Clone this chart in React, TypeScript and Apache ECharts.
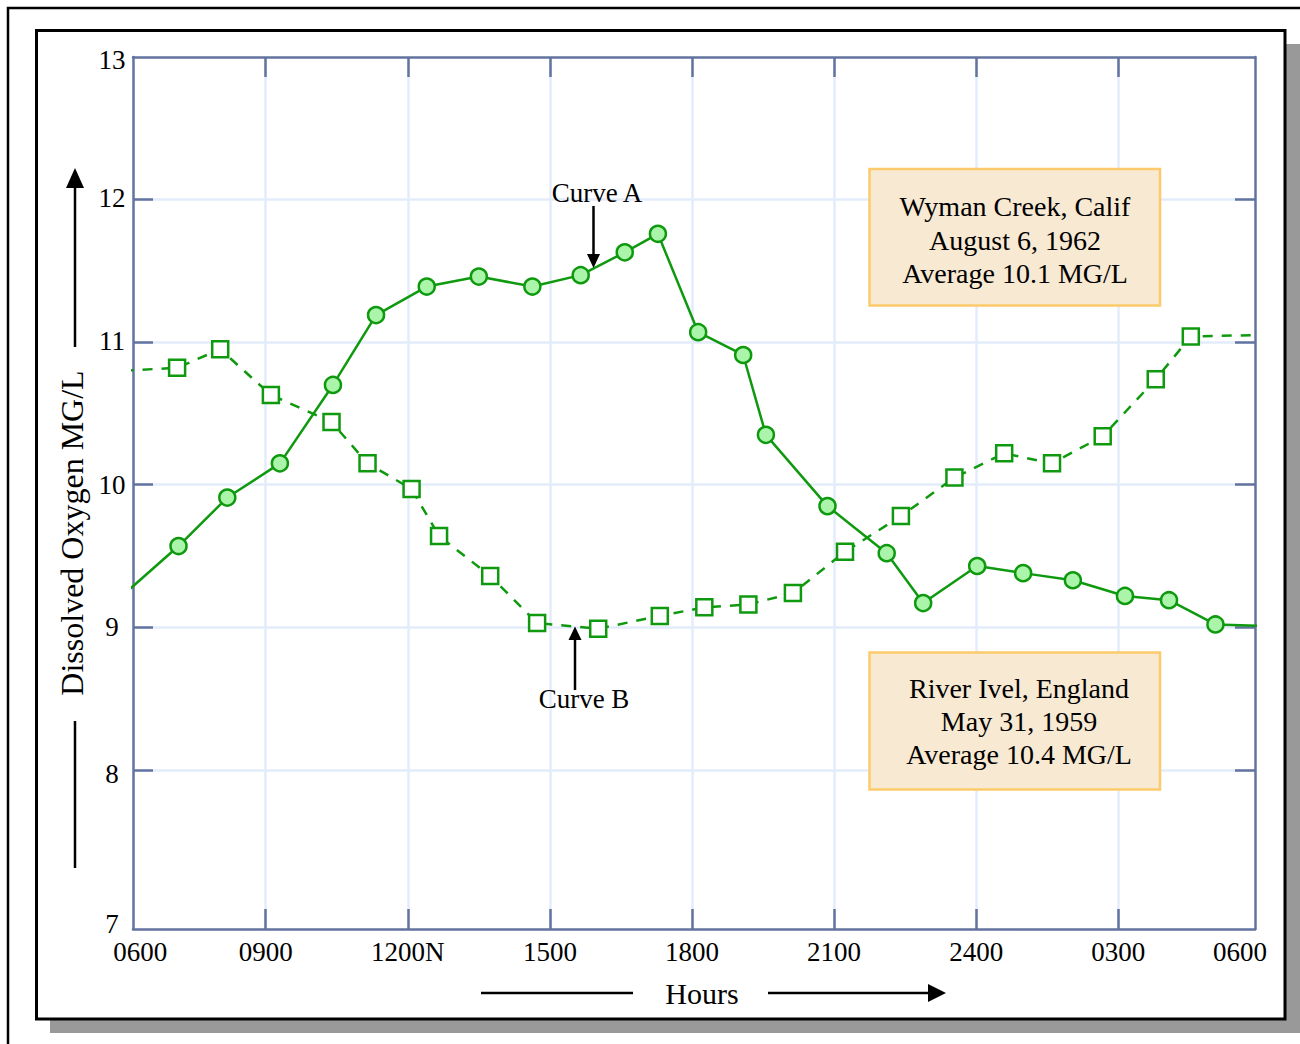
import React, { useEffect, useRef } from 'react';
import * as echarts from 'echarts';

// ---- data (hours since midnight, continuing past 24 for the next morning) ----
const xTickLabels = ['0600', '0900', '1200N', '1500', '1800', '2100', '2400', '0300', '0600'];
const xTickHours = [9, 12, 15, 18, 21, 24, 27];
const xLabelHours = [6.35, 9, 12, 15, 18, 21, 24, 27, 29.57];
const yTickValues = [8, 9, 10, 11, 12];
const yLabelValues = [6.92, 7.97, 9, 10, 11.01, 12.01, 12.98];

// Curve A – Wyman Creek, Calif (solid line, circles)
const hoursA = [6.0, 7.16, 8.19, 9.3, 10.42, 11.33, 12.4, 13.5, 14.63, 15.65, 16.58, 17.28, 18.13, 19.08, 19.56, 20.86, 22.11, 22.88, 24.02, 24.99, 26.04, 27.14, 28.07, 29.05, 30.0];
const curveA = [9.23, 9.57, 9.91, 10.15, 10.7, 11.19, 11.39, 11.46, 11.39, 11.47, 11.63, 11.76, 11.07, 10.91, 10.35, 9.85, 9.52, 9.17, 9.43, 9.38, 9.33, 9.22, 9.19, 9.02, 9.01];

// Curve B – River Ivel, England (dashed line, squares)
const hoursB = [6.0, 7.13, 8.04, 9.11, 10.39, 11.15, 12.08, 12.66, 13.74, 14.73, 16.02, 17.32, 18.26, 19.19, 20.13, 21.23, 22.41, 23.54, 24.59, 25.6, 26.67, 27.79, 28.53, 30.0];
const curveB = [10.8, 10.82, 10.95, 10.63, 10.44, 10.15, 9.97, 9.64, 9.36, 9.03, 8.99, 9.08, 9.14, 9.16, 9.24, 9.53, 9.78, 10.05, 10.22, 10.15, 10.34, 10.74, 11.04, 11.05];

const boxA = ['Wyman Creek, Calif', 'August 6, 1962', 'Average 10.1 MG/L'];
const boxB = ['River Ivel, England', 'May 31, 1959', 'Average 10.4 MG/L'];

const X_MIN = 6.199;
const X_MAX = 29.885;
const Y_MIN = 6.884;
const Y_MAX = 13;

const AXIS = '#62739f';
const GRIDC = '#e3ecfb';
const GREEN = '#0f990f';
const FONT = '"Liberation Serif", "Times New Roman", serif';

function pairs(hs: number[], vs: number[]) {
  return hs.map((h, i) => {
    const inside = h >= X_MIN && h <= X_MAX;
    return inside ? { value: [h, vs[i]] } : { value: [h, vs[i]], symbol: 'none' };
  });
}

const axisLineCfg = { show: true, onZero: false, lineStyle: { color: AXIS, width: 2.5 } };

export default function App() {
  const ref = useRef<HTMLDivElement>(null);
  useEffect(() => {
    const chart = echarts.init(ref.current as HTMLDivElement, null, { renderer: 'svg' });
    const option: any = {
      animation: false,
      backgroundColor: '#ffffff',
      grid: { left: 133, top: 57, right: 45, bottom: 115, containLabel: false },
      xAxis: [
        {
          type: 'value', position: 'bottom', min: X_MIN, max: X_MAX,
          axisLine: axisLineCfg,
          axisTick: { show: true, inside: true, length: 20, customValues: xTickHours, lineStyle: { color: AXIS, width: 2.5 } },
          axisLabel: {
            show: true, customValues: xLabelHours, margin: 9,
            color: '#000', fontFamily: FONT, fontSize: 27,
            formatter: (v: number) => xTickLabels[Math.round((v - 6) / 3)],
          },
          splitLine: { show: true, lineStyle: { color: GRIDC, width: 2.5 } },
        },
        {
          type: 'value', position: 'top', min: X_MIN, max: X_MAX,
          axisLine: axisLineCfg,
          axisTick: { show: true, inside: true, length: 20, customValues: xTickHours, lineStyle: { color: AXIS, width: 2.5 } },
          axisLabel: { show: false },
          splitLine: { show: false },
        },
      ],
      yAxis: [
        {
          type: 'value', position: 'left', min: Y_MIN, max: Y_MAX,
          axisLine: axisLineCfg,
          axisTick: { show: true, inside: true, length: 20, customValues: yTickValues, lineStyle: { color: AXIS, width: 2.5 } },
          axisLabel: {
            show: true, customValues: yLabelValues, margin: 21, align: 'center',
            color: '#000', fontFamily: FONT, fontSize: 27,
            formatter: (v: number) => String(Math.round(v)),
          },
          splitLine: { show: true, lineStyle: { color: GRIDC, width: 2.5 } },
        },
        {
          type: 'value', position: 'right', min: Y_MIN, max: Y_MAX,
          axisLine: axisLineCfg,
          axisTick: { show: true, inside: true, length: 20, customValues: yTickValues, lineStyle: { color: AXIS, width: 2.5 } },
          axisLabel: { show: false },
          splitLine: { show: false },
        },
      ],
      series: [
        {
          name: 'Curve B', type: 'line', xAxisIndex: 0, yAxisIndex: 0,
          data: pairs(hoursB, curveB),
          symbol: 'rect', symbolSize: 16, showSymbol: true, clip: true,
          itemStyle: { color: '#ffffff', borderColor: GREEN, borderWidth: 2.5 },
          lineStyle: { color: GREEN, width: 2.5, type: [10, 9] },
          emphasis: { disabled: true }, z: 3,
        },
        {
          name: 'Curve A', type: 'line', xAxisIndex: 0, yAxisIndex: 0,
          data: pairs(hoursA, curveA),
          symbol: 'circle', symbolSize: 16, showSymbol: true, clip: true,
          itemStyle: { color: '#aaf5aa', borderColor: GREEN, borderWidth: 2.5 },
          lineStyle: { color: GREEN, width: 2.5 },
          emphasis: { disabled: true }, z: 4,
        },
      ],
      graphic: [
        // page edge lines
        { type: 'polyline', z: -100, shape: { points: [[8, 1044], [8, 8], [1300, 8]] }, style: { stroke: '#000', lineWidth: 2.5, fill: null } },
        // shadow + frame
        { type: 'rect', z: -99, shape: { x: 50, y: 44, width: 1250, height: 989 }, style: { fill: '#999999' } },
        { type: 'rect', z: -98, shape: { x: 36.5, y: 30.5, width: 1248.5, height: 988.5 }, style: { fill: '#ffffff', stroke: '#000', lineWidth: 3 } },
        // y-axis title with arrows
        { type: 'text', z: 60, x: 72, y: 533, rotation: Math.PI / 2, style: { text: 'Dissolved Oxygen MG/L', fontFamily: FONT, fontSize: 32, fill: '#000', textAlign: 'center', textVerticalAlign: 'middle' } },
        { type: 'line', z: 60, shape: { x1: 75, y1: 347, x2: 75, y2: 184 }, style: { stroke: '#000', lineWidth: 2.5 } },
        { type: 'polygon', z: 60, shape: { points: [[66, 188], [84, 188], [75, 168]] }, style: { fill: '#000' } },
        { type: 'line', z: 60, shape: { x1: 75, y1: 721, x2: 75, y2: 868 }, style: { stroke: '#000', lineWidth: 2.5 } },
        // x-axis title with arrows
        { type: 'text', z: 60, x: 702, y: 993, style: { text: 'Hours', fontFamily: FONT, fontSize: 30, fill: '#000', textAlign: 'center', textVerticalAlign: 'middle' } },
        { type: 'line', z: 60, shape: { x1: 481, y1: 993, x2: 633, y2: 993 }, style: { stroke: '#000', lineWidth: 2.5 } },
        { type: 'line', z: 60, shape: { x1: 768, y1: 993, x2: 932, y2: 993 }, style: { stroke: '#000', lineWidth: 2.5 } },
        { type: 'polygon', z: 60, shape: { points: [[928, 984], [928, 1002], [946, 993]] }, style: { fill: '#000' } },
        // Curve A label + arrow
        { type: 'text', z: 60, x: 597, y: 193, style: { text: 'Curve A', fontFamily: FONT, fontSize: 27, fill: '#000', textAlign: 'center', textVerticalAlign: 'middle' } },
        { type: 'line', z: 60, shape: { x1: 593.5, y1: 206, x2: 593.5, y2: 256 }, style: { stroke: '#000', lineWidth: 2.5 } },
        { type: 'polygon', z: 60, shape: { points: [[587, 254], [600, 254], [593.5, 268]] }, style: { fill: '#000' } },
        // Curve B label + arrow
        { type: 'text', z: 60, x: 584, y: 699, style: { text: 'Curve B', fontFamily: FONT, fontSize: 27, fill: '#000', textAlign: 'center', textVerticalAlign: 'middle' } },
        { type: 'line', z: 60, shape: { x1: 575, y1: 690, x2: 575, y2: 638 }, style: { stroke: '#000', lineWidth: 2.5 } },
        { type: 'polygon', z: 60, shape: { points: [[568.5, 640], [581.5, 640], [575, 626.5]] }, style: { fill: '#000' } },
        // info boxes
        { type: 'rect', z: 50, shape: { x: 869.5, y: 169, width: 290.5, height: 136.5 }, style: { fill: '#f8e9d3', stroke: '#fdca6b', lineWidth: 2.5 } },
        { type: 'text', z: 51, x: 1015, y: 240, style: { text: boxA.join('\n'), fontFamily: FONT, fontSize: 28, lineHeight: 33.5, fill: '#000', textAlign: 'center', textVerticalAlign: 'middle' } },
        { type: 'rect', z: 50, shape: { x: 869.5, y: 652.5, width: 290.5, height: 137 }, style: { fill: '#f8e9d3', stroke: '#fdca6b', lineWidth: 2.5 } },
        { type: 'text', z: 51, x: 1019, y: 721, style: { text: boxB.join('\n'), fontFamily: FONT, fontSize: 28, lineHeight: 33, fill: '#000', textAlign: 'center', textVerticalAlign: 'middle' } },
      ],
    };
    chart.setOption(option);
    return () => chart.dispose();
  }, []);
  return <div ref={ref} style={{ position: 'absolute', left: 0, top: 0, width: 1300, height: 1044 }} />;
}
